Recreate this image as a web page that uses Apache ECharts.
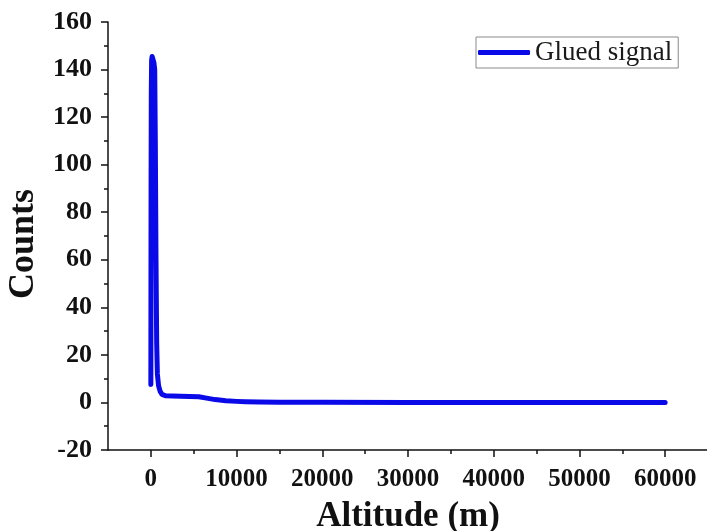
<!DOCTYPE html>
<html>
<head>
<meta charset="utf-8">
<script src="https://cdn.jsdelivr.net/npm/echarts@6/dist/echarts.min.js"></script>
<style>
html,body{margin:0;padding:0;background:#fff;}
#chart{width:707px;height:531px;}
</style>
</head>
<body>
<div id="chart"></div>
<script>
// Data
var seriesName = 'Glued signal';
var altitudes = [0, 10, 25, 50, 90, 150, 250, 350, 450, 520, 600, 680, 760, 900, 1100, 1300, 1500, 1750, 2500, 3500, 4500, 5600, 6500, 7500, 8750, 10000, 11000, 12600, 15000, 17300, 20000, 30000, 40000, 50000, 60000];
var counts = [7.5, 40, 90, 130, 144, 145.5, 145, 143, 140, 110, 60, 25, 12, 7, 4.5, 3.4, 3.0, 2.8, 2.7, 2.6, 2.55, 2.4, 1.8, 1.2, 0.7, 0.45, 0.32, 0.2, 0.1, 0.05, 0.03, 0.01, 0.005, 0, 0];
var xMajorTicks = [0, 10000, 20000, 30000, 40000, 50000, 60000];
var xMinorTicks = [5000, 15000, 25000, 35000, 45000, 55000];
var yTicks = [-20, 0, 20, 40, 60, 80, 100, 120, 140, 160];

var pts = altitudes.map(function (a, i) { return [a, counts[i]]; });
var font = "'Liberation Serif', 'Times New Roman', serif";
var axisColor = '#111';

var chart = echarts.init(document.getElementById('chart'));
chart.setOption({
  animation: false,
  backgroundColor: '#fff',
  grid: { left: 108, top: 22, width: 600, height: 428, containLabel: false, outerBoundsMode: 'none' },
  legend: {
    show: true,
    data: [{ name: seriesName, icon: 'roundRect' }],
    left: 476,
    top: 37,
    orient: 'horizontal',
    padding: [2, 6, 2, 2],
    itemWidth: 52,
    itemHeight: 5,
    itemGap: 5,
    borderColor: '#8a8a8a',
    borderWidth: 1,
    textStyle: { fontFamily: font, fontSize: 27, color: '#1a1a1a' }
  },
  xAxis: [{
    type: 'value',
    min: -5000,
    max: 65000,
    name: 'Altitude (m)',
    nameLocation: 'middle',
    nameGap: 49,
    nameTextStyle: { fontFamily: font, fontSize: 35, fontWeight: 'bold', color: axisColor },
    axisLine: { show: true, onZero: false, lineStyle: { color: axisColor, width: 1.5 } },
    axisTick: { show: true, length: 7, customValues: xMajorTicks, lineStyle: { color: axisColor, width: 1.5 } },
    axisLabel: {
      show: true, customValues: xMajorTicks, margin: 17, fontFamily: font, fontSize: 25, fontWeight: 'bold', color: axisColor,
      formatter: function (v) { return String(v); }
    },
    splitLine: { show: false }
  }, {
    type: 'value',
    position: 'bottom',
    min: -5000,
    max: 65000,
    axisLine: { show: false, onZero: false },
    axisTick: { show: true, length: 4, customValues: xMinorTicks, lineStyle: { color: axisColor, width: 1.5 } },
    axisLabel: { show: false },
    splitLine: { show: false }
  }],
  yAxis: {
    type: 'value',
    min: -20,
    max: 160,
    interval: 20,
    name: 'Counts',
    nameLocation: 'middle',
    nameGap: 66,
    nameMoveOverlap: false,
    nameTextStyle: { fontFamily: font, fontSize: 36, fontWeight: 'bold', color: axisColor, padding: [0, 16, 0, 0] },
    axisLine: { show: true, onZero: false, lineStyle: { color: axisColor, width: 1.5 } },
    axisTick: { show: true, length: 7, lineStyle: { color: axisColor, width: 1.5 } },
    minorTick: { show: true, splitNumber: 2, length: 4, lineStyle: { color: axisColor, width: 1.5 } },
    axisLabel: {
      margin: 16, fontFamily: font, fontSize: 26, fontWeight: 'bold', color: axisColor,
      formatter: function (v) { return yTicks.indexOf(v) >= 0 ? String(v) : ''; }
    },
    splitLine: { show: false }
  },
  series: [{
    name: seriesName,
    type: 'line',
    xAxisIndex: 0,
    data: pts,
    symbol: 'none',
    showSymbol: false,
    smooth: false,
    color: '#0a0ae8',
    lineStyle: { width: 5, color: '#0a0ae8', cap: 'round', join: 'round' }
  }]
});
</script>
</body>
</html>
